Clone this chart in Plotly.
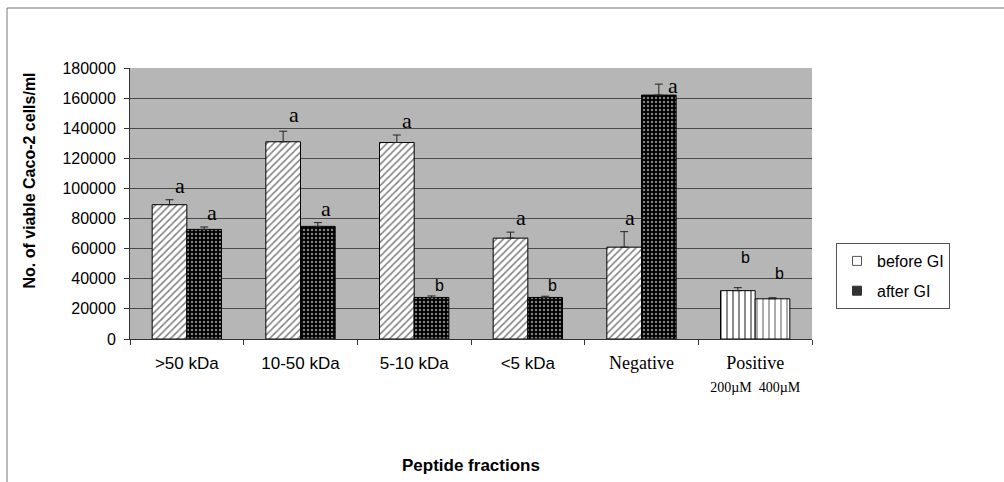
import plotly.graph_objects as go

categories = [">50 kDa", "10-50 kDa", "5-10 kDa", "<5 kDa", "Negative", "Positive"]
before_gi = [89200, 131000, 130500, 67000, 61000, 32100]
before_err = [3300, 7000, 5000, 4000, 10300, 2000]
after_gi = [72800, 74800, 27600, 27600, 162000, 26700]
after_err = [1600, 2500, 1000, 800, 7300, 700]
before_letters = ["a", "a", "a", "a", "a", "b"]
after_letters = ["a", "a", "b", "b", "a", "b"]
y_ticks = [0, 20000, 40000, 60000, 80000, 100000, 120000, 140000, 160000, 180000]

# layout geometry (pixels)
L, R, T, B = 130, 192, 68, 143
PW, PH = 1004 - L - R, 482 - T - B
Y0 = 482 - B  # pixel row of the x axis

serif = "Liberation Serif"
sans = "Liberation Sans"

tick_text = [
    ">50 kDa", "10-50 kDa", "5-10 kDa", "&lt;5 kDa",
    f"<span style='font-family:{serif};font-size:18px'>Negative</span>",
    f"<span style='font-family:{serif};font-size:18px'>Positive</span><br>"
    f"<span style='font-family:{serif};font-size:14px'>200µM  400µM</span>",
]

before_shape = ["/"] * 5 + ["|"]
before_size = [5] * 5 + [6]
after_shape = ["."] * 5 + ["|"]
after_size = [4] * 5 + [6]
after_bg = ["black"] * 5 + ["white"]
after_fg = ["white"] * 5 + ["black"]

fig = go.Figure()
fig.add_trace(go.Bar(
    x=categories, y=before_gi, name="before GI", showlegend=False,
    marker=dict(color="white", line=dict(color="black", width=1),
                pattern=dict(shape=before_shape, fgcolor="black", bgcolor="white",
                             size=before_size, solidity=0.3, fillmode="overlay")),
    error_y=dict(type="data", symmetric=False, array=before_err,
                 arrayminus=[0] * len(before_err), color="#222", thickness=1, width=4),
))
fig.add_trace(go.Bar(
    x=categories, y=after_gi, name="after GI", showlegend=False,
    marker=dict(color=after_bg, line=dict(color="black", width=1),
                pattern=dict(shape=after_shape, fgcolor=after_fg, bgcolor=after_bg,
                             size=after_size, solidity=0.3, fillmode="overlay")),
    error_y=dict(type="data", symmetric=False, array=after_err,
                 arrayminus=[0] * len(after_err), color="#222", thickness=1, width=4),
))
# legend entries
fig.add_trace(go.Scatter(x=[None], y=[None], mode="markers", name="before GI",
                         legendgroup="before",
                         marker=dict(symbol="square", size=9, color="white",
                                     line=dict(color="#555", width=1))))
fig.add_trace(go.Scatter(x=[None], y=[None], mode="markers", name="after GI",
                         legendgroup="after",
                         marker=dict(symbol="square", size=9, color="#333",
                                     line=dict(color="#333", width=1))))

annotations = []
b_shift = [(-7, 0), (-7, 2), (-7, 0), (-7, 0), (-12, 0), (-10, 20)]
a_shift = [(25, 0), (25, 0), (25, 0), (25, 0), (31, -16), (24, 14)]
for i, c in enumerate(categories):
    for letter, val, err, (xs, ys) in (
        (before_letters[i], before_gi[i], before_err[i], b_shift[i]),
        (after_letters[i], after_gi[i], after_err[i], a_shift[i]),
    ):
        is_a = letter == "a"
        annotations.append(dict(
            x=c, y=val + err, xref="x", yref="y", text=letter, showarrow=False,
            xshift=xs, yshift=ys, yanchor="bottom",
            font=dict(family=serif if is_a else sans, size=22 if is_a else 16, color="black"),
        ))

annotations.append(dict(
    x=(18 - L) / PW, y=(Y0 - 181) / PH, xref="paper", yref="paper",
    text="<b>No. of viable Caco-2 cells/ml</b>", textangle=-90, showarrow=False,
    font=dict(family=sans, size=16, color="black"),
))
annotations.append(dict(
    x=0.5, y=-(465 - Y0) / PH, xref="paper", yref="paper",
    text="<b>Peptide fractions</b>", showarrow=False, yanchor="middle",
    font=dict(family=sans, size=17, color="black"),
))

fig.update_layout(
    width=1004, height=482,
    margin=dict(l=L, r=R, t=T, b=B),
    paper_bgcolor="white",
    plot_bgcolor="#b6b6b6",
    barmode="group", bargap=0.39, bargroupgap=0,
    font=dict(family=sans, size=16, color="black"),
    annotations=annotations,
    legend=dict(x=(836 - L) / PW, y=(Y0 - 243) / PH, xanchor="left", yanchor="top",
                bordercolor="#555", borderwidth=1, bgcolor="white",
                font=dict(family=sans, size=16, color="black"),
                tracegroupgap=6),
    shapes=[dict(type="rect", xref="paper", yref="paper",
                 x0=(7 - L) / PW, x1=(1020 - L) / PW,
                 y0=-(500 - Y0) / PH, y1=(Y0 - 8) / PH,
                 line=dict(color="#777", width=1), layer="below")],
)
fig.update_xaxes(
    categoryorder="array", categoryarray=categories,
    tickvals=categories, ticktext=tick_text,
    ticks="outside", ticklen=5, tickcolor="#333", tickson="boundaries",
    showline=True, linecolor="#333", linewidth=1, mirror=False,
    tickfont=dict(family=sans, size=17, color="black"),
    ticklabelstandoff=9,
)
fig.update_yaxes(
    range=[0, 180000], tickvals=y_ticks, ticktext=[str(v) for v in y_ticks],
    ticks="outside", ticklen=5, tickcolor="#333",
    showline=True, linecolor="#333", linewidth=1,
    showgrid=True, gridcolor="#4a4a4a", gridwidth=1,
    tickfont=dict(family=sans, size=16, color="black"),
    ticklabelstandoff=5, zeroline=False,
)

fig.write_html("out.html")
